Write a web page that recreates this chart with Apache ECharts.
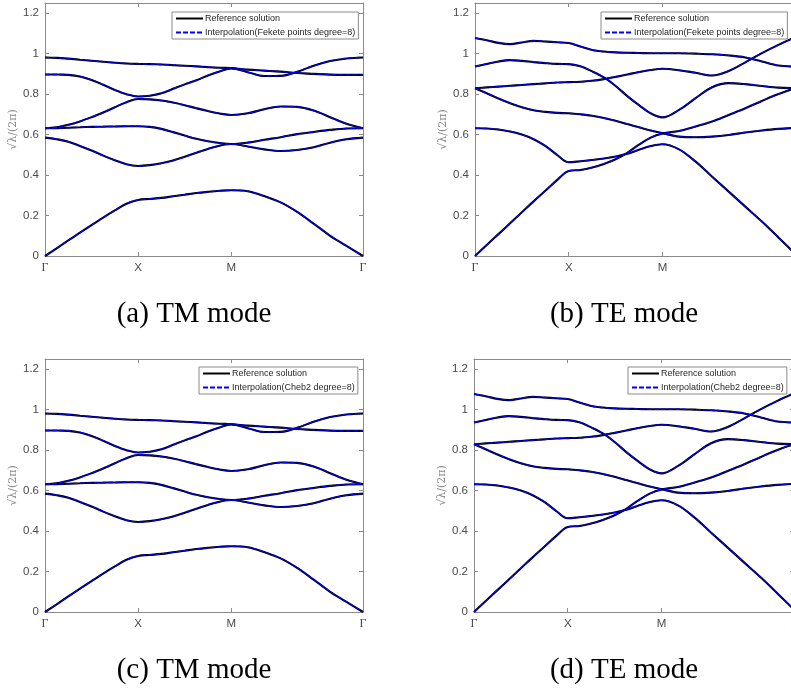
<!DOCTYPE html>
<html>
<head>
<meta charset="utf-8">
<script src="https://cdn.jsdelivr.net/npm/echarts@6/dist/echarts.min.js"></script>
<style>
  html, body { margin: 0; padding: 0; background: #fff; }
  #chart { width: 791px; height: 694px; }
</style>
</head>
<body>
<div id="chart"></div>
<script>
// path coordinate along Γ-X-M-Γ (|ΓX| = |XM| = 1, |MΓ| = √2)
const kPath = [0, 0.125, 0.25, 0.375, 0.5, 0.625, 0.75, 0.875, 1,
  1.125, 1.25, 1.375, 1.5, 1.625, 1.75, 1.875, 2,
  2.177, 2.354, 2.530, 2.707, 2.884, 3.061, 3.237, 3.4142];

// TM bands, sqrt(lambda)/(2pi)
const tm1 = [0, 0.038, 0.077, 0.115, 0.153, 0.19, 0.225, 0.258, 0.277, 0.282, 0.287, 0.295, 0.303, 0.311, 0.317, 0.322, 0.325, 0.320, 0.296, 0.265, 0.218, 0.16, 0.10, 0.05, 0];
const tm2 = [0.585, 0.577, 0.565, 0.544, 0.521, 0.496, 0.473, 0.453, 0.445, 0.449, 0.458, 0.472, 0.49, 0.51, 0.529, 0.545, 0.553, 0.541, 0.527, 0.519, 0.524, 0.537, 0.56, 0.577, 0.585];
const tm3 = [0.631, 0.632, 0.634, 0.636, 0.638, 0.639, 0.64, 0.641, 0.641, 0.638, 0.628, 0.612, 0.595, 0.579, 0.567, 0.558, 0.553, 0.56, 0.574, 0.587, 0.602, 0.613, 0.623, 0.63, 0.631];
const tm4 = [0.631, 0.636, 0.648, 0.665, 0.686, 0.709, 0.735, 0.76, 0.776, 0.774, 0.768, 0.758, 0.745, 0.73, 0.716, 0.704, 0.697, 0.705, 0.725, 0.739, 0.737, 0.719, 0.686, 0.653, 0.631];
const tm5 = [0.897, 0.897, 0.895, 0.887, 0.87, 0.846, 0.82, 0.799, 0.788, 0.792, 0.804, 0.826, 0.848, 0.868, 0.892, 0.912, 0.927, 0.908, 0.889, 0.89, 0.91, 0.94, 0.963, 0.976, 0.981];
const tm6 = [0.981, 0.979, 0.975, 0.97, 0.965, 0.96, 0.955, 0.951, 0.949, 0.948, 0.946, 0.943, 0.94, 0.937, 0.933, 0.93, 0.928, 0.921, 0.916, 0.911, 0.904, 0.9, 0.896, 0.895, 0.895];

// TE bands
const te1 = [0, 0.054, 0.108, 0.162, 0.216, 0.27, 0.322, 0.375, 0.42, 0.425, 0.437, 0.455, 0.478, 0.51, 0.55, 0.585, 0.605, 0.618, 0.64, 0.664, 0.697, 0.73, 0.766, 0.8, 0.829];
const te2 = [0.631, 0.63, 0.625, 0.615, 0.6, 0.577, 0.544, 0.5, 0.463, 0.468, 0.474, 0.482, 0.492, 0.505, 0.525, 0.543, 0.552, 0.527, 0.466, 0.392, 0.318, 0.244, 0.17, 0.092, 0.012];
const te3 = [0.829, 0.804, 0.778, 0.755, 0.735, 0.72, 0.712, 0.707, 0.705, 0.70, 0.693, 0.682, 0.668, 0.652, 0.636, 0.62, 0.607, 0.59, 0.587, 0.59, 0.598, 0.61, 0.62, 0.628, 0.633];
const te4 = [0.829, 0.833, 0.837, 0.841, 0.845, 0.849, 0.853, 0.857, 0.859, 0.861, 0.866, 0.874, 0.885, 0.897, 0.909, 0.919, 0.925, 0.918, 0.905, 0.892, 0.914, 0.957, 1.002, 1.043, 1.08];
const te5 = [0.936, 0.949, 0.961, 0.968, 0.964, 0.958, 0.953, 0.949, 0.948, 0.937, 0.912, 0.882, 0.84, 0.79, 0.745, 0.705, 0.685, 0.722, 0.78, 0.834, 0.854, 0.849, 0.84, 0.832, 0.829];
const te6 = [1.077, 1.066, 1.053, 1.047, 1.055, 1.063, 1.06, 1.056, 1.052, 1.035, 1.018, 1.01, 1.006, 1.004, 1.003, 1.002, 1.002, 1.002, 1.0, 0.997, 0.991, 0.981, 0.961, 0.941, 0.936];

const tickPos = [0, 1, 2, 3.4142];
const tickNames = ['Γ', 'X', 'M', 'Γ'];
const yTicks = [0, 0.2, 0.4, 0.6, 0.8, 1, 1.2];
const captions = ['(a) TM mode', '(b) TE mode', '(c) TM mode', '(d) TE mode'];
const refName = 'Reference solution';
const interpNames = ['Interpolation(Fekete points degree=8)', 'Interpolation(Fekete points degree=8)',
  'Interpolation(Cheb2 degree=8)', 'Interpolation(Cheb2 degree=8)'];

const tmBands = [tm1, tm2, tm3, tm4, tm5, tm6];
const teBands = [te1, te2, te3, te4, te5, te6];

// layout of the four panels
const panels = [
  { left: 45, top: 3, width: 318, bands: tmBands, legend: [172, 12], cap: [194, 314] },
  { left: 475, top: 3, width: 320, bands: teBands, legend: [601, 12], cap: [624, 314] },
  { left: 45, top: 359, width: 318, bands: tmBands, legend: [199, 367], cap: [194, 670] },
  { left: 474, top: 359, width: 320, bands: teBands, legend: [628, 367], cap: [624, 670] }
];
const panelHeight = 253;
const axisGray = '#8a8a8a';
const labelGray = '#4a4a4a';

const grids = [], xAxes = [], yAxes = [], series = [], legends = [], graphics = [];

panels.forEach((p, i) => {
  grids.push({ left: p.left, top: p.top, width: p.width, height: panelHeight, containLabel: false, outerBoundsMode: 'none' });
  const axLine = { show: true, onZero: false, lineStyle: { color: axisGray, width: 1 } };
  const tick = vals => ({ show: true, inside: true, length: 4, lineStyle: { color: axisGray }, customValues: vals });
  xAxes.push({
    type: 'value', gridIndex: i, min: 0, max: 3.4142, position: 'bottom',
    axisLine: axLine, axisTick: tick(tickPos),
    axisLabel: {
      show: true, customValues: tickPos, margin: 6, color: labelGray, fontSize: 11.5,
      fontFamily: 'Liberation Sans',
      formatter: v => {
        const j = tickPos.findIndex(t => Math.abs(t - v) < 1e-6);
        const s = j >= 0 ? tickNames[j] : '';
        return s === 'Γ' ? '{g|Γ}' : s;
      },
      rich: { g: { fontFamily: 'Liberation Serif', fontSize: 12, color: labelGray } }
    },
    splitLine: { show: false }
  });
  xAxes.push({
    type: 'value', gridIndex: i, min: 0, max: 3.4142, position: 'top',
    axisLine: axLine, axisTick: tick(tickPos),
    axisLabel: { show: false },
    splitLine: { show: false }
  });
  yAxes.push({
    type: 'value', gridIndex: i, min: 0, max: 1.25, position: 'left',
    name: '√λ/(2π)', nameLocation: 'middle', nameRotate: 90, nameGap: 24,
    nameTextStyle: { color: '#8a8a8a', fontSize: 11, fontFamily: 'DejaVu Serif' },
    axisLine: axLine, axisTick: tick(yTicks),
    axisLabel: { show: true, customValues: yTicks, margin: 6, color: labelGray, fontSize: 11.5, fontFamily: 'Liberation Sans' },
    splitLine: { show: false }
  });
  yAxes.push({
    type: 'value', gridIndex: i, min: 0, max: 1.25, position: 'right',
    axisLine: axLine, axisTick: tick(yTicks),
    axisLabel: { show: false },
    splitLine: { show: false }
  });

  p.bands.forEach(band => {
    const data = kPath.map((k, n) => [k, band[n]]);
    series.push({
      name: refName, type: 'line', xAxisIndex: 2 * i, yAxisIndex: 2 * i,
      data: data, showSymbol: false, symbol: 'none', smooth: 0.35, z: 2, silent: true,
      lineStyle: { color: '#000000', width: 2.1, type: 'solid' }, itemStyle: { color: '#000000' }
    });
    series.push({
      name: interpNames[i], type: 'line', xAxisIndex: 2 * i, yAxisIndex: 2 * i,
      data: data, showSymbol: false, symbol: 'none', smooth: 0.35, z: 3, silent: true,
      lineStyle: { color: '#0000ff', width: 1.4, type: [5, 2] }, itemStyle: { color: '#0000ff' }
    });
  });

  legends.push({
    data: [refName, interpNames[i]],
    left: p.legend[0], top: p.legend[1], orient: 'vertical',
    itemWidth: 27, itemHeight: 8, itemGap: 5, padding: [2, 3, 2, 3],
    backgroundColor: '#ffffff', borderColor: axisGray, borderWidth: 1, borderRadius: 0,
    selectedMode: false,
    itemStyle: { opacity: 0 },
    textStyle: { fontSize: 9, fontFamily: 'Liberation Sans', color: '#262626', padding: [0, 0, 0, -3] }
  });

  graphics.push({
    type: 'text', x: p.cap[0], y: p.cap[1],
    style: { text: captions[i], align: 'center', verticalAlign: 'middle', font: '29px "Liberation Serif"', fill: '#000' }
  });
});

const chart = echarts.init(document.getElementById('chart'), null, { renderer: 'canvas' });
chart.setOption({
  backgroundColor: '#ffffff',
  animation: false,
  grid: grids,
  xAxis: xAxes,
  yAxis: yAxes,
  legend: legends,
  series: series,
  graphic: graphics
});
</script>
</body>
</html>
